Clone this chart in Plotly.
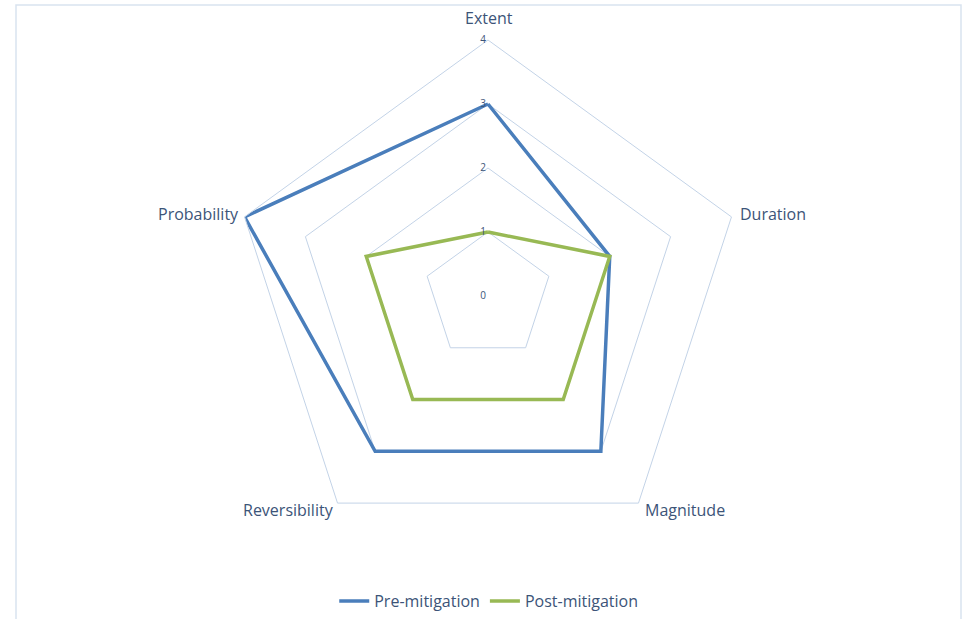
import plotly.graph_objects as go

# Impact criteria around the radar and scores before/after mitigation
criteria = ["Extent", "Duration", "Magnitude", "Reversibility", "Probability"]
pre_mitigation = [3, 2, 3, 3, 4]
post_mitigation = [1, 2, 2, 2, 2]
radial_ticks = [0, 1, 2, 3, 4]

TEXT = "#3c5478"
GRID = "#c3d3e7"
FONT = "'Open Sans', Lato, sans-serif"

def closed(vals):
    return vals + vals[:1]

fig = go.Figure()
fig.add_trace(go.Scatterpolar(
    r=closed(pre_mitigation), theta=closed(criteria), mode="lines",
    name="Pre-mitigation", line=dict(color="#4a7ebb", width=3.5),
))
fig.add_trace(go.Scatterpolar(
    r=closed(post_mitigation), theta=closed(criteria), mode="lines",
    name="Post-mitigation", line=dict(color="#98b954", width=3.5),
))

W, H = 964, 619
cx, cy, R = 488, 296, 256

# category labels placed just outside each spoke of the pentagon
label_pos = {
    "Extent": (489, 18),
    "Duration": (773, 214),
    "Magnitude": (685, 510),
    "Reversibility": (288, 510),
    "Probability": (198, 214),
}
annotations = [
    dict(text=name, x=label_pos[name][0] / W, y=1 - label_pos[name][1] / H,
         xref="paper", yref="paper", xanchor="center", yanchor="middle",
         showarrow=False, font=dict(family=FONT, size=16, color=TEXT))
    for name in criteria
]

fig.update_layout(
    width=W, height=H,
    margin=dict(l=0, r=0, t=0, b=0),
    paper_bgcolor="white",
    font=dict(family=FONT, color=TEXT, size=16),
    polar=dict(
        domain=dict(x=[(cx - R) / W, (cx + R) / W], y=[1 - (cy + R) / H, 1 - (cy - R) / H]),
        gridshape="linear",
        bgcolor="white",
        angularaxis=dict(
            rotation=90, direction="clockwise", showgrid=False,
            showline=True, linecolor=GRID, linewidth=1,
            ticks="", showticklabels=False,
        ),
        radialaxis=dict(
            range=[0, 4], tickvals=radial_ticks, ticktext=[str(v) for v in radial_ticks],
            angle=90, tickangle=90, side="counterclockwise", showline=False, ticks="",
            gridcolor=GRID, gridwidth=1, tickfont=dict(size=10, color=TEXT),
        ),
    ),
    showlegend=True,
    legend=dict(
        orientation="h", x=0.507, xanchor="center", y=1 - 601 / H, yanchor="middle",
        font=dict(size=16, color=TEXT), itemwidth=30,
    ),
    annotations=annotations,
    shapes=[dict(
        type="rect", xref="paper", yref="paper",
        x0=16 / W, x1=961 / W, y0=-0.05, y1=1 - 5 / H,
        line=dict(color="#d9e3ef", width=1.5),
    )],
)

fig.write_html("out.html")
